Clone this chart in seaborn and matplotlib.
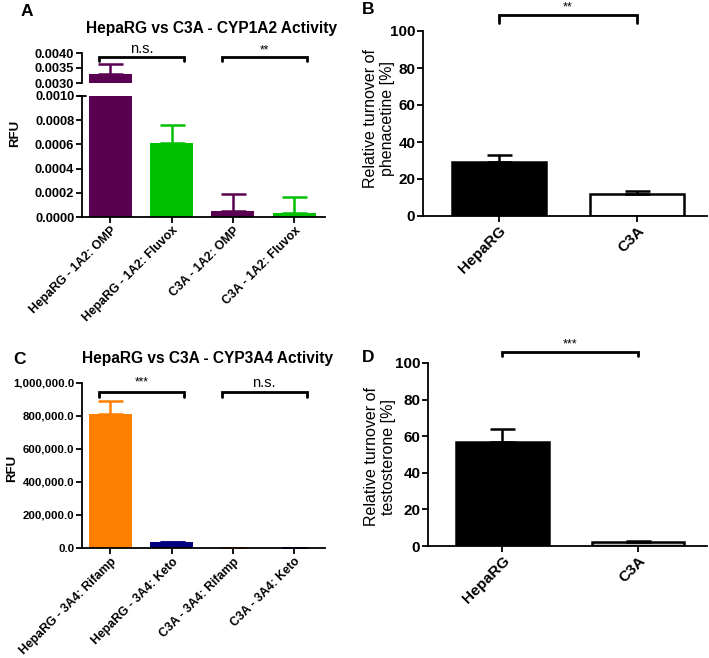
import numpy as np
import matplotlib.pyplot as plt
import matplotlib.ticker as mticker
import seaborn as sns

# A - CYP1A2 activity (RFU), broken y axis
a_labels = ["HepaRG - 1A2: OMP", "HepaRG - 1A2: Fluvox", "C3A - 1A2: OMP", "C3A - 1A2: Fluvox"]
a_means = [0.0033, 0.00061, 0.00005, 0.00003]
a_errs = [0.00035, 0.00015, 0.00014, 0.000135]
a_colors = ["#5a0050", "#00c000", "#5a0050", "#00c000"]

# B - relative turnover of phenacetine
b_labels = ["HepaRG", "C3A"]
b_means = [29, 12]
b_errs = [4, 1.5]
b_colors = ["black", "white"]

# C - CYP3A4 activity (RFU)
c_labels = ["HepaRG - 3A4: Rifamp", "HepaRG - 3A4: Keto", "C3A - 3A4: Rifamp", "C3A - 3A4: Keto"]
c_means = [815000, 35000, 1500, 1200]
c_errs = [75000, 3000, 300, 300]
c_colors = ["#ff8000", "#000080", "#ff8000", "#000080"]

# D - relative turnover of testosterone
d_labels = ["HepaRG", "C3A"]
d_means = [57, 2]
d_errs = [7, 0.5]
d_colors = ["black", "#bbbbbb"]

sns.set_style("ticks")
plt.rcParams["font.family"] = ["Liberation Sans", "DejaVu Sans"]
plt.rcParams.update({
    "text.color": "black",
    "axes.labelcolor": "black",
    "axes.edgecolor": "black",
    "xtick.color": "black",
    "ytick.color": "black",
})

W, H = 709, 658
fig = plt.figure(figsize=(W / 100, H / 100), dpi=100)


def box(l, t, r, b):
    # pixel box -> figure fraction
    return [l / W, 1 - b / H, (r - l) / W, (b - t) / H]


def style_axis(ax, size):
    for s in ["top", "right"]:
        ax.spines[s].set_visible(False)
    for s in ["left", "bottom"]:
        ax.spines[s].set_linewidth(1.3)
    ax.tick_params(width=1.3, length=4, labelsize=size, pad=1.5)
    for t in ax.get_yticklabels() + ax.get_xticklabels():
        t.set_fontweight("bold")


def draw_bars(ax, labels, means, errs, colors, width, edge=False):
    if edge:
        sns.barplot(x=labels, y=means, hue=labels, palette=colors, legend=False,
                    width=width, edgecolor="black", linewidth=1.8, ax=ax)
        ecols = ["black"] * len(labels)
    else:
        sns.barplot(x=labels, y=means, hue=labels, palette=colors, legend=False,
                    width=width, linewidth=0, saturation=1, ax=ax)
        ecols = colors
    for i, (m, e) in enumerate(zip(means, errs)):
        ax.errorbar(i, m, yerr=[[0], [e]], fmt="none", ecolor=ecols[i],
                    elinewidth=1.8, capsize=9, capthick=1.8)
    ax.set_ylabel("")
    ax.set_xlabel("")


def bracket(ax, x1, x2, y, y_end, text, size, dy):
    ax.plot([x1, x1, x2, x2], [y_end, y, y, y_end], color="black", lw=2,
            clip_on=False, solid_joinstyle="miter")
    ax.text((x1 + x2) / 2, y + dy, text, ha="center", va="bottom", fontsize=size)


# ---- A ----
ax_a = fig.add_axes(box(82, 96, 325, 217))
ax_at = fig.add_axes(box(82, 53, 325, 83))
for ax in (ax_a, ax_at):
    draw_bars(ax, a_labels, a_means, a_errs, a_colors, 0.7)
    ax.set_xlim(-0.46, 3.5)
ax_a.set_ylim(0, 0.0010)
ax_a.set_yticks(np.arange(0, 0.00101, 0.0002))
ax_at.set_ylim(0.0030, 0.0040)
ax_at.set_yticks([0.0030, 0.0035, 0.0040])
for ax in (ax_a, ax_at):
    ax.yaxis.set_major_formatter(mticker.FormatStrFormatter("%.4f"))
ax_at.spines["bottom"].set_visible(False)
ax_at.tick_params(axis="x", bottom=False, labelbottom=False)
ax_a.set_xticks(range(len(a_labels)))
ax_a.set_xticklabels(a_labels, rotation=45, ha="right", rotation_mode="anchor")
style_axis(ax_a, 9.3)
style_axis(ax_at, 9.3)
ax_a.tick_params(axis="x", labelsize=8.8)
ax_a.plot([-0.015, 0.015], [1, 1], transform=ax_a.transAxes, color="black",
          lw=1.3, clip_on=False)
bracket(ax_at, -0.18, 1.2, 0.00388, 0.00372, "n.s.", 10.5, 0.00002)
bracket(ax_at, 1.82, 3.2, 0.00388, 0.00372, "**", 8.5, 0.00002)
fig.text(82 + 243 / 2 + 8, H - 29, "HepaRG vs C3A - CYP1A2 Activity", ha="center",
         va="center", fontsize=11.2, fontweight="bold", transform=None)
fig.text(15 / W, 1 - 133 / H, "RFU", rotation=90, ha="center", va="center",
         fontsize=9.5, fontweight="bold")

# ---- B ----
ax_b = fig.add_axes(box(423, 31, 707, 216))
draw_bars(ax_b, b_labels, b_means, b_errs, b_colors, 0.68, edge=True)
ax_b.set_xlim(-0.55, 1.51)
ax_b.set_ylim(0, 100)
ax_b.set_yticks(range(0, 101, 20))
ax_b.set_xticks(range(2))
ax_b.set_xticklabels(b_labels, rotation=45, ha="right", rotation_mode="anchor")
style_axis(ax_b, 11)
bracket(ax_b, 0, 1, 108.6, 104.3, "**", 9, 1.0)
fig.text(379 / W, 1 - 118 / H, "Relative turnover of\nphenacetine [%]", rotation=90,
         ha="center", va="center", fontsize=11.5, linespacing=1.1)

# ---- C ----
ax_c = fig.add_axes(box(82, 383, 325, 548))
draw_bars(ax_c, c_labels, c_means, c_errs, c_colors, 0.7)
ax_c.set_xlim(-0.46, 3.5)
ax_c.set_ylim(0, 1000000)
ax_c.set_yticks(range(0, 1000001, 200000))
ax_c.yaxis.set_major_formatter(mticker.FuncFormatter(lambda v, p: f"{v:,.1f}"))
ax_c.set_xticks(range(len(c_labels)))
ax_c.set_xticklabels(c_labels, rotation=45, ha="right", rotation_mode="anchor")
style_axis(ax_c, 8.2)
ax_c.tick_params(axis="x", labelsize=8.8)
bracket(ax_c, -0.18, 1.2, 947000, 917000, "***", 8.5, 20000)
bracket(ax_c, 1.82, 3.2, 947000, 917000, "n.s.", 10.5, 10000)
fig.text(82 + 243 / 2 + 4, H - 359, "HepaRG vs C3A - CYP3A4 Activity", ha="center",
         va="center", fontsize=11.2, fontweight="bold", transform=None)
fig.text(12 / W, 1 - 468 / H, "RFU", rotation=90, ha="center", va="center",
         fontsize=9.5, fontweight="bold")

# ---- D ----
ax_d = fig.add_axes(box(428, 363, 707, 546))
draw_bars(ax_d, d_labels, d_means, d_errs, d_colors, 0.68, edge=True)
ax_d.set_xlim(-0.55, 1.51)
ax_d.set_ylim(0, 100)
ax_d.set_yticks(range(0, 101, 20))
ax_d.set_xticks(range(2))
ax_d.set_xticklabels(d_labels, rotation=45, ha="right", rotation_mode="anchor")
style_axis(ax_d, 11)
bracket(ax_d, 0, 1, 106, 104, "***", 9, 1.0)
fig.text(380 / W, 1 - 457 / H, "Relative turnover of\ntestosterone [%]", rotation=90,
         ha="center", va="center", fontsize=11.5, linespacing=1.1)

# panel letters
for letter, x, y in [("A", 27, 11), ("B", 368, 10), ("C", 19, 359), ("D", 368, 358)]:
    fig.text(x / W, 1 - y / H, letter, ha="center", va="center", fontsize=12.5,
             fontweight="bold")

fig.savefig("out.png", dpi=100)
